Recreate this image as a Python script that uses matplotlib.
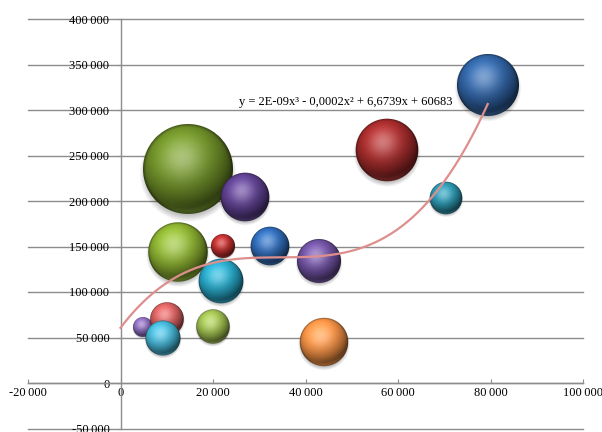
import numpy as np
import matplotlib
matplotlib.use("Agg")
import matplotlib.pyplot as plt
from matplotlib.ticker import FuncFormatter, MultipleLocator
from matplotlib.offsetbox import OffsetImage, AnnotationBbox
from matplotlib.colors import to_rgb

plt.rcParams['font.family'] = ['Liberation Serif', 'DejaVu Serif']

# Bubble data (listed in drawing order: later bubbles sit on top)
x_vals = [14700, 26900, 12500, 22200, 32300, 21700, 4900, 10100, 9200,
          20100, 42900, 44000, 57700, 70400, 79400]
y_vals = [234800, 204700, 144300, 150500, 150500, 112400, 61200, 70000, 49100,
          61200, 134400, 44700, 256000, 203600, 327500]
sizes = [100.0, 29.2, 43.6, 7.1, 18.4, 24.6, 4.9, 13.9, 15.1,
         13.8, 23.9, 28.9, 48.4, 13.1, 47.5]
colors = ['#6F9028', '#5E4090', '#8BB030', '#BC2C2C', '#2E6AB6', '#26A6C6',
          '#8A6AB8', '#D65E5E', '#44B2D2', '#9CBC4C', '#6E50A0', '#F29044',
          '#A62B2B', '#2A93AC', '#3063A4']

# Third-order polynomial trendline coefficients (highest power first)
trend_coef = [1.857e-9, -1.925e-4, 6.6739, 60683]

x_limits = (-20000, 100000)
y_limits = (-50000, 400000)

BUBBLE_MAX_RADIUS_PX = 45.0
DPI = 100


def sphere_image(color, radius):
    """RGBA image of a shaded sphere with a soft drop shadow."""
    base = np.array(to_rgb(color))
    pad = int(0.35 * radius) + 3
    n = 2 * (int(np.ceil(radius)) + pad)
    yy, xx = np.mgrid[0:n, 0:n] + 0.5
    c = n / 2.0
    u = (xx - c) / radius
    v = (yy - c) / radius
    rr = u * u + v * v
    dist = np.sqrt(rr)
    nz = np.sqrt(np.clip(1 - rr, 0, 1))
    nx, ny = u, -v

    L = np.array([-0.25, 0.50, 0.83])
    L = L / np.linalg.norm(L)
    diff = np.clip(nx * L[0] + ny * L[1] + nz * L[2], 0, 1)
    H = L + np.array([0, 0, 1.0])
    H = H / np.linalg.norm(H)
    spec = np.clip(nx * H[0] + ny * H[1] + nz * H[2], 0, 1) ** 10

    shade = 0.42 + 0.72 * diff
    col = base[None, None, :] * shade[..., None]
    col = col + (1 - col) * (0.36 * spec)[..., None]
    # faint reflected light along the lower rim
    refl = np.clip((v - 0.35) / 0.65, 0, 1) ** 2 * np.clip((rr - 0.55) / 0.45, 0, 1)
    light = base * 1.05 + (1 - base) * 0.12
    col = col * (1 - 0.45 * refl[..., None]) + light[None, None, :] * (0.45 * refl[..., None])
    # thin darker outline
    col = col * (1 - 0.30 * np.clip((dist - 0.93) / 0.07, 0, 1))[..., None]
    col = np.clip(col, 0, 1)

    a_sphere = np.clip((1 - dist) * radius + 0.5, 0, 1)

    # soft shadow below the sphere
    sv = v - 0.10
    sdist = np.sqrt(u * u + sv * sv)
    a_shadow = 0.25 * np.clip(1 - (sdist - 0.92) / 0.16, 0, 1)

    alpha = a_sphere + a_shadow * (1 - a_sphere)
    rgb = (col * a_sphere[..., None]) / np.maximum(alpha, 1e-6)[..., None]
    return np.dstack([rgb, alpha])


fig = plt.figure(figsize=(6.02, 4.32), dpi=DPI)
ax = fig.add_axes([28 / 602, 1 - 428.5 / 432, 555 / 602, 409.5 / 432])
ax.set_xlim(*x_limits)
ax.set_ylim(*y_limits)

grid_color = '#8C8C8C'
for yv in np.arange(y_limits[0], y_limits[1] + 1, 50000):
    ax.axhline(yv, color=grid_color, lw=1.0, zorder=1, clip_on=False)

for side in ('top', 'right'):
    ax.spines[side].set_visible(False)
ax.spines['left'].set_position(('data', 0))
ax.spines['bottom'].set_position(('data', 0))
for side in ('left', 'bottom'):
    ax.spines[side].set_color(grid_color)
    ax.spines[side].set_linewidth(1.0)

ax.xaxis.set_major_locator(MultipleLocator(20000))
ax.yaxis.set_major_locator(MultipleLocator(50000))
fmt = FuncFormatter(lambda val, pos: f"{val:,.0f}".replace(',', '\u2009'))
ax.xaxis.set_major_formatter(fmt)
ax.yaxis.set_major_formatter(fmt)
ax.tick_params(axis='x', direction='in', length=3, color=grid_color,
               labelsize=9, pad=3)
ax.tick_params(axis='y', direction='out', length=3, color=grid_color,
               labelsize=9, pad=5)
ax.patch.set_visible(False)

size_max = max(sizes)
for xv, yv, sv, cv in zip(x_vals, y_vals, sizes, colors):
    radius = BUBBLE_MAX_RADIUS_PX * np.sqrt(sv / size_max)
    img = sphere_image(cv, radius)
    ab = AnnotationBbox(OffsetImage(img, zoom=1, dpi_cor=False), (xv, yv),
                        xycoords='data', frameon=False, pad=0,
                        box_alignment=(0.5, 0.5), zorder=3)
    ax.add_artist(ab)

xs = np.linspace(0, max(x_vals), 400)
ax.plot(xs, np.polyval(trend_coef, xs), color='#DE8F8D', lw=1.6, zorder=5)

c3, c2, c1, c0 = trend_coef
eq = (f"y = {c3:.0E}x\u00b3 - {abs(c2):.4f}x\u00b2 + {c1:.4f}x + {c0:.0f}"
      ).replace('.', ',')
ax.text(25700, 309100, eq, fontsize=9, ha='left', va='center', zorder=6)

fig.savefig('out.png', dpi=DPI)
